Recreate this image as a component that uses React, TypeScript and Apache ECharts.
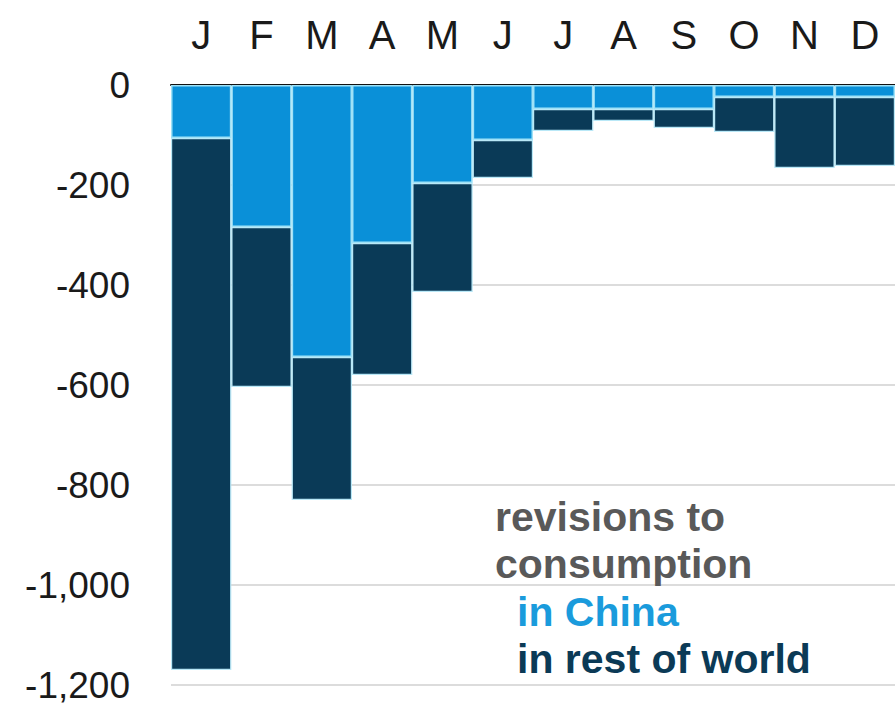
import React, { useEffect, useRef } from "react";
import * as echarts from "echarts";

const months = ["J", "F", "M", "A", "M", "J", "J", "A", "S", "O", "N", "D"];
const chinaRevisions = [-106, -284, -544, -316, -196, -110, -48, -48, -48, -24, -24, -24];
const restOfWorldRevisions = [-1064, -320, -286, -264, -218, -76, -44, -24, -38, -70, -142, -138];
const yTicks = { min: -1200, max: 0, interval: 200 };
const noteLines = [
  { text: "revisions to", color: "#595959", dx: 0 },
  { text: "consumption", color: "#595959", dx: 0 },
  { text: "in China", color: "#1a9bdc", dx: 22 },
  { text: "in rest of world", color: "#0b3a56", dx: 22 },
];

const FONT = "'Liberation Sans', Arial, sans-serif";

export default function App() {
  const ref = useRef<HTMLDivElement>(null);
  useEffect(() => {
    if (!ref.current) return;
    const chart = echarts.init(ref.current, undefined, { renderer: "svg" });
    const option = {
      animation: false,
      backgroundColor: "#ffffff",
      grid: { left: 171, top: 85, width: 727, height: 600, containLabel: false },
      xAxis: {
        type: "category",
        position: "top",
        data: months,
        axisLine: { show: true, lineStyle: { color: "#111111", width: 2 } },
        axisTick: { show: false },
        axisLabel: { color: "#1a1a1a", fontSize: 40, fontFamily: FONT, margin: 30 },
        splitLine: { show: false },
      },
      yAxis: {
        type: "value",
        min: yTicks.min,
        max: yTicks.max,
        interval: yTicks.interval,
        axisLine: { show: false },
        axisTick: { show: false },
        axisLabel: {
          color: "#1a1a1a",
          fontSize: 37,
          lineHeight: 30,
          fontFamily: FONT,
          margin: 41,
          formatter: (v: number) => v.toLocaleString("en-US"),
        },
        splitLine: { show: true, lineStyle: { color: "#dcdcdc", width: 2 } },
      },
      series: [
        {
          name: "China",
          type: "bar",
          stack: "total",
          data: chinaRevisions,
          barCategoryGap: "0%",
          itemStyle: { color: "#0a90d8", borderColor: "#9fe2f7", borderWidth: 1.5 },
        },
        {
          name: "Rest of world",
          type: "bar",
          stack: "total",
          data: restOfWorldRevisions,
          barCategoryGap: "0%",
          itemStyle: { color: "#0a3a57", borderColor: "#b9e8f7", borderWidth: 1.2 },
        },
      ],
      graphic: noteLines.map((l, i) => ({
        type: "text",
        left: 495 + l.dx,
        top: 496 + i * 47.5,
        z: 100,
        style: {
          text: l.text,
          fill: l.color,
          font: `bold 41px ${FONT}`,
        },
      })),
    };
    chart.setOption(option);
    return () => chart.dispose();
  }, []);
  return (
    <div
      ref={ref}
      style={{ position: "absolute", left: 0, top: 0, width: 895, height: 704 }}
    />
  );
}
